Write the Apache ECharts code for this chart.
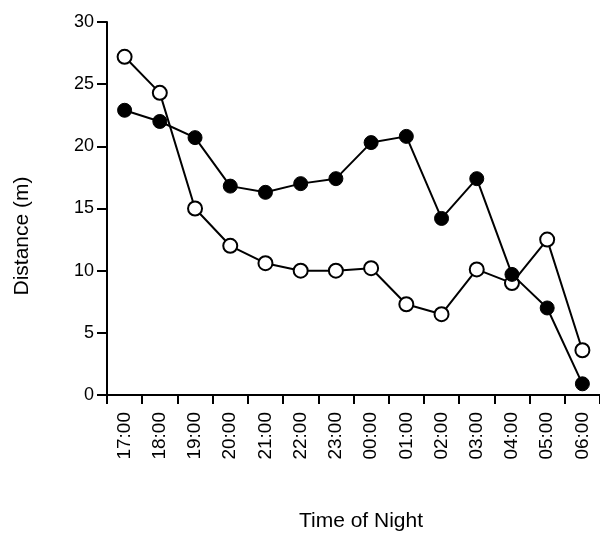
<!DOCTYPE html>
<html>
<head>
<meta charset="utf-8">
<script src="https://cdn.jsdelivr.net/npm/echarts@6/dist/echarts.min.js"></script>
<style>html,body{margin:0;padding:0;background:#fff}#c{width:600px;height:535px}</style>
</head>
<body>
<div id="c"></div>
<script>
var categories = ['17:00','18:00','19:00','20:00','21:00','22:00','23:00','00:00','01:00','02:00','03:00','04:00','05:00','06:00'];
var filledSeries = [22.9, 22.0, 20.7, 16.8, 16.3, 17.0, 17.4, 20.3, 20.8, 14.2, 17.4, 9.7, 7.0, 0.9];
var openSeries = [27.2, 24.3, 15.0, 12.0, 10.6, 10.0, 10.0, 10.2, 7.3, 6.5, 10.1, 9.0, 12.5, 3.6];
var yTicks = [0, 5, 10, 15, 20, 25, 30];
var xTitle = 'Time of Night';
var yTitle = 'Distance (m)';

var chart = echarts.init(document.getElementById('c'));
var font = '"Liberation Sans", Arial, Helvetica, sans-serif';
chart.setOption({
  animation: false,
  backgroundColor: '#fff',
  grid: { left: 107, right: 0, top: 22, bottom: 140 },
  graphic: [
    { type: 'text', x: 22, y: 236, rotation: Math.PI / 2,
      style: { text: yTitle, fill: '#000', font: '21px ' + font, textAlign: 'center', textVerticalAlign: 'middle' } },
    { type: 'text', x: 361, y: 521,
      style: { text: xTitle, fill: '#000', font: '21px ' + font, textAlign: 'center', textVerticalAlign: 'middle' } }
  ],
  xAxis: {
    type: 'category',
    data: categories,
    boundaryGap: true,
    axisLine: { lineStyle: { color: '#000', width: 2 } },
    axisTick: { show: true, length: 9, lineStyle: { color: '#000', width: 2 }, alignWithLabel: false },
    axisLabel: { rotate: 90, color: '#000', fontSize: 19, fontFamily: font, margin: 17 },
    splitLine: { show: false }
  },
  yAxis: {
    type: 'value',
    min: yTicks[0],
    max: yTicks[yTicks.length - 1],
    interval: 5,
    axisLine: { show: true, lineStyle: { color: '#000', width: 2 } },
    axisTick: { show: true, length: 10, lineStyle: { color: '#000', width: 2 } },
    axisLabel: { color: '#000', fontSize: 18, fontFamily: font, margin: 13 },
    splitLine: { show: false }
  },
  series: [
    {
      name: 'filled',
      type: 'line',
      data: filledSeries,
      symbol: 'circle',
      symbolSize: 14,
      lineStyle: { color: '#000', width: 2 },
      itemStyle: { color: '#000', borderColor: '#000', borderWidth: 1 },
      z: 3
    },
    {
      name: 'open',
      type: 'line',
      data: openSeries,
      symbol: 'circle',
      symbolSize: 14,
      lineStyle: { color: '#000', width: 2 },
      itemStyle: { color: '#fff', borderColor: '#000', borderWidth: 2 },
      z: 2
    }
  ]
});
</script>
</body>
</html>
